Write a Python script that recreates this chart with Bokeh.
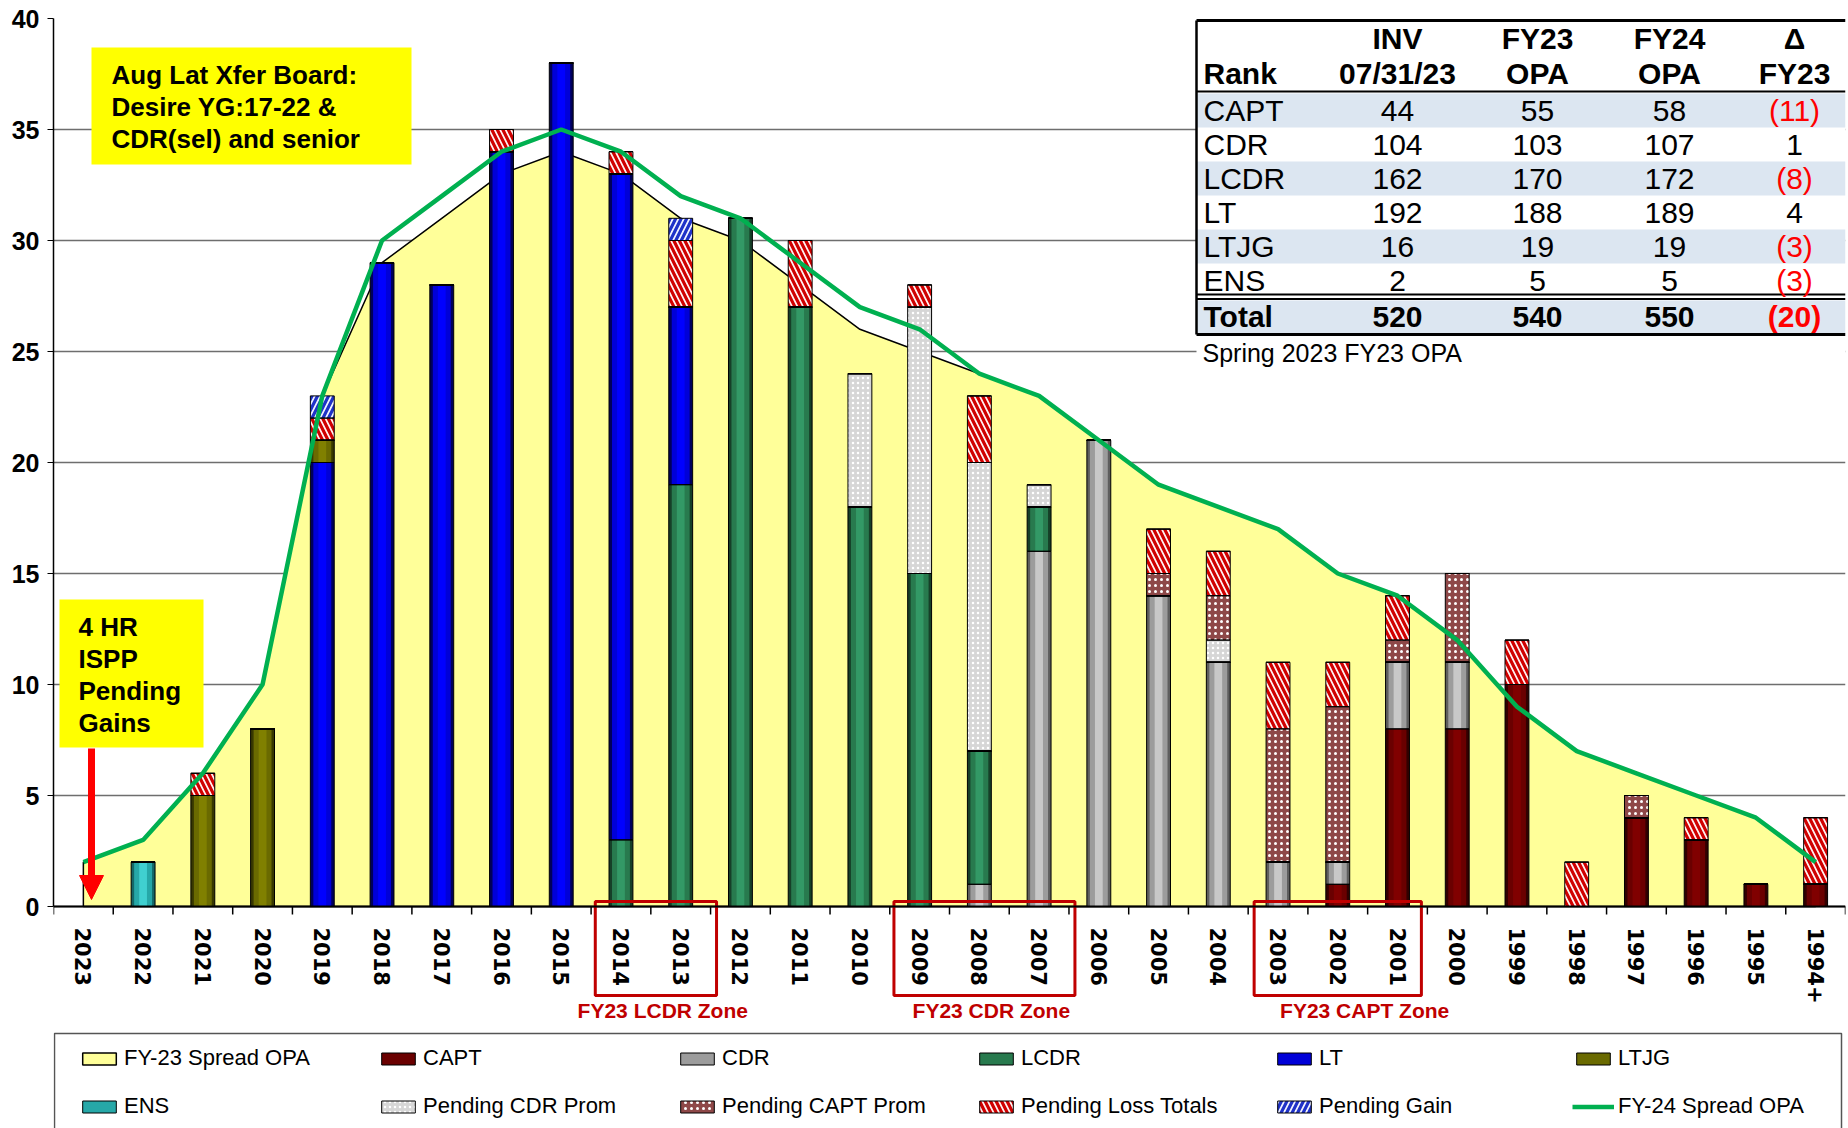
from bokeh.plotting import figure
from bokeh.models import (ColumnDataSource, FactorRange, Range1d, FixedTicker,
                          Legend, LegendItem, Arrow, NormalHead)
from bokeh.core.properties import value
from bokeh.embed import file_html
from bokeh.resources import INLINE

# ---------------- data ----------------
years = ["2023", "2022", "2021", "2020", "2019", "2018", "2017", "2016", "2015", "2014",
         "2013", "2012", "2011", "2010", "2009", "2008", "2007", "2006", "2005", "2004",
         "2003", "2002", "2001", "2000", "1999", "1998", "1997", "1996", "1995", "1994+"]
capt      = [0, 0, 0, 0, 0, 0, 0, 0, 0, 0,   0, 0, 0, 0, 0, 0, 0, 0, 0, 0,   0, 1, 8, 8, 10, 0, 4, 3, 1, 1]
cdr       = [0, 0, 0, 0, 0, 0, 0, 0, 0, 0,   0, 0, 0, 0, 0, 1, 16, 21, 14, 11, 2, 1, 3, 3, 0, 0, 0, 0, 0, 0]
lcdr      = [0, 0, 0, 0, 0, 0, 0, 0, 0, 3,   19, 31, 27, 18, 15, 6, 2, 0, 0, 0, 0, 0, 0, 0, 0, 0, 0, 0, 0, 0]
lt        = [0, 0, 0, 0, 20, 29, 28, 34, 38, 30, 8, 0, 0, 0, 0, 0, 0, 0, 0, 0, 0, 0, 0, 0, 0, 0, 0, 0, 0, 0]
ltjg      = [0, 0, 5, 8, 1, 0, 0, 0, 0, 0,   0, 0, 0, 0, 0, 0, 0, 0, 0, 0,   0, 0, 0, 0, 0, 0, 0, 0, 0, 0]
ens       = [0, 2, 0, 0, 0, 0, 0, 0, 0, 0,   0, 0, 0, 0, 0, 0, 0, 0, 0, 0,   0, 0, 0, 0, 0, 0, 0, 0, 0, 0]
pend_cdr  = [0, 0, 0, 0, 0, 0, 0, 0, 0, 0,   0, 0, 0, 6, 12, 13, 1, 0, 0, 1, 0, 0, 0, 0, 0, 0, 0, 0, 0, 0]
pend_capt = [0, 0, 0, 0, 0, 0, 0, 0, 0, 0,   0, 0, 0, 0, 0, 0, 0, 0, 1, 2,   6, 7, 1, 4, 0, 0, 1, 0, 0, 0]
pend_loss = [0, 0, 1, 0, 1, 0, 0, 1, 0, 1,   3, 0, 3, 0, 1, 3, 0, 0, 2, 2,   3, 2, 2, 0, 2, 2, 0, 1, 0, 3]
pend_gain = [0, 0, 0, 0, 1, 0, 0, 0, 0, 0,   1, 0, 0, 0, 0, 0, 0, 0, 0, 0,   0, 0, 0, 0, 0, 0, 0, 0, 0, 0]
fy23_spread = [2, 3, 6, 10, 23, 29, 31, 33, 34, 33, 31, 30, 28, 26, 25, 24, 23, 21, 19, 18,
               17, 15, 14, 12, 9, 7, 6, 5, 4, 2]
fy24_spread = [2, 3, 6, 10, 23, 30, 32, 34, 35, 34, 32, 31, 29, 27, 26, 24, 23, 21, 19, 18,
               17, 15, 14, 12, 9, 7, 6, 5, 4, 2]
y_ticks = [0, 5, 10, 15, 20, 25, 30, 35, 40]

# zone annotations (label, first year, last year)
zones = [("FY23 LCDR Zone", "2014", "2013"),
         ("FY23 CDR Zone", "2009", "2007"),
         ("FY23 CAPT Zone", "2003", "2001")]

# summary table
tbl_ranks = ["CAPT", "CDR", "LCDR", "LT", "LTJG", "ENS"]
tbl_inv   = [44, 104, 162, 192, 16, 2]
tbl_fy23  = [55, 103, 170, 188, 19, 5]
tbl_fy24  = [58, 107, 172, 189, 19, 5]
tbl_delta = [-11, 1, -8, 4, -3, -3]
tbl_head1 = ["INV", "FY23", "FY24", "Δ"]
tbl_head2 = ["07/31/23", "OPA", "OPA", "FY23"]

note1 = ["Aug Lat Xfer Board:", "Desire YG:17-22 &", "CDR(sel) and senior"]
note2 = ["4 HR", "ISPP", "Pending", "Gains"]

# ---------------- geometry helpers (canvas px -> data) ----------------
W, H = 1848, 1128
FL, FR, FT, FB = 53, 1845, 18, 1128
Y0, Y1 = -10.0, 40.0
N = len(years)


def cx(px):
    return (px - FL) * N / (FR - FL)


def cy(py):
    return Y1 - (py - FT) * (Y1 - Y0) / (FB - FT)


src = ColumnDataSource(dict(years=years, capt=capt, cdr=cdr, lcdr=lcdr, lt=lt, ltjg=ltjg,
                            ens=ens, pend_cdr=pend_cdr, pend_capt=pend_capt,
                            pend_loss=pend_loss, pend_gain=pend_gain,
                            fy23=fy23_spread, fy24=fy24_spread))

p = figure(width=W, height=H, x_range=FactorRange(*years), y_range=Range1d(Y0, Y1),
           output_backend="svg", toolbar_location=None,
           min_border_left=FL, min_border_right=W - FR, min_border_top=FT, min_border_bottom=0)
p.outline_line_color = None
p.background_fill_color = "white"
p.border_fill_color = "white"

# axes
p.xaxis.fixed_location = 0
p.xaxis.major_label_orientation = "vertical"
p.xaxis.major_label_text_font = "DejaVu Sans"
p.xaxis.major_label_text_font_style = "bold"
p.xaxis.major_label_text_font_size = "21px"
p.xaxis.major_label_text_color = "black"
p.xaxis.major_label_standoff = 15
p.xaxis.major_tick_line_color = None
p.xaxis.axis_line_width = 2
p.xaxis.axis_line_color = "black"
p.xgrid.grid_line_color = None

p.yaxis.ticker = FixedTicker(ticks=y_ticks)
p.yaxis.bounds = (0, 40)
p.yaxis.major_label_text_font = "Liberation Sans"
p.yaxis.major_label_text_font_style = "bold"
p.yaxis.major_label_text_font_size = "25px"
p.yaxis.major_label_text_color = "black"
p.yaxis.major_tick_out = 6
p.yaxis.major_tick_in = 0
p.yaxis.minor_tick_line_color = None
p.yaxis.major_label_standoff = 8
p.yaxis.axis_line_width = 1.5
p.ygrid.ticker = FixedTicker(ticks=y_ticks)
p.ygrid.grid_line_color = "#6E6E6E"
p.ygrid.grid_line_width = 1.5

# FY-23 spread area (patch with black outline)
area = p.patch(x=years + years[::-1], y=fy23_spread + [0] * N,
               fill_color="#FFFF99", line_color="black", line_width=1.5)

# stacked bars
rank_keys = ["capt", "cdr", "lcdr", "lt", "ltjg", "ens"]
pend_keys = ["pend_cdr", "pend_capt", "pend_loss", "pend_gain"]
keys = rank_keys + pend_keys
outer_fill = ["#330000", "#5E5E5E", "#163F28", "#00005A", "#383800", "#146868",
              "#D6D6D6", "#8E4848", "#FFF2F2", "#F2F4FF"]
mid_fill = ["#6A0000", "#9C9C9C", "#287A4E", "#0000D8", "#6A6A00", "#26A8A8"]
light_fill = ["#800000", "#C8C8C8", "#339966", "#0000FF", "#808000", "#40D0D0"]
hatch_pat = ["blank"] * 6 + ["dot", "dot", "left_diagonal_line", "right_diagonal_line"]
hatch_col = ["black"] * 6 + ["#FFFFFF", "#FFFFFF", "#D00000", "#1F32C8"]
hatch_scl = [12] * 6 + [5, 6, 11, 11]
hatch_wt = [1] * 6 + [1, 1, 3.2, 3.2]

outer = p.vbar_stack(keys, x="years", width=0.4, source=src, fill_color=outer_fill,
                     line_color=None, hatch_pattern=hatch_pat, hatch_color=hatch_col,
                     hatch_scale=hatch_scl, hatch_weight=hatch_wt)
mid = p.vbar_stack(rank_keys, x="years", width=0.30, source=src, fill_color=mid_fill,
                   line_color=None)
light = p.vbar_stack(rank_keys, x="years", width=0.13, source=src, fill_color=light_fill,
                     line_color=None)
outline = p.vbar_stack(keys, x="years", width=0.4, source=src, fill_color=None,
                       line_color="black", line_width=1)

# FY-24 line
fy24_line = p.line(x="years", y="fy24", source=src, line_color="#00B050", line_width=4.5)

# boundary tick marks on x axis
bnd = list(range(N + 1))
p.segment(x0=bnd, y0=[0] * len(bnd), x1=bnd, y1=[cy(914)] * len(bnd),
          line_color="black", line_width=1.5)

# zone boxes
box_pad_l = [0.07, 0.07, 0.1]
box_pad_r = [0.1, 0.1, -0.1]
lab_shift = [0.2, 0.2, 0.45]
zl, zr, zt, zb, ztx = [], [], [], [], []
for k, (name, a, b) in enumerate(zones):
    i0, i1 = years.index(a), years.index(b) + 1
    zl.append(i0 + box_pad_l[k])
    zr.append(i1 + box_pad_r[k])
    zt.append(cy(901))
    zb.append(cy(995))
    ztx.append((i0 + i1) / 2 + lab_shift[k])
p.quad(left=zl, right=zr, top=zt, bottom=zb, fill_color=None,
       line_color="#C00000", line_width=3)
p.text(x=ztx, y=[cy(1010)] * len(zones), text=[z[0] for z in zones],
       text_align="center", text_baseline="middle", text_color="#C00000",
       text_font=value("Liberation Sans"), text_font_style="bold", text_font_size="21px")

# yellow notes
p.quad(left=[cx(91), cx(59)], right=[cx(411), cx(203)], top=[cy(47), cy(599)],
       bottom=[cy(164), cy(747)], fill_color="#FFFF00", line_color=None)
p.text(x=[cx(111)] * len(note1), y=[cy(74 + 32 * i) for i in range(len(note1))], text=note1,
       text_align="left", text_baseline="middle", text_color="black",
       text_font=value("Liberation Sans"), text_font_style="bold", text_font_size="26px")
p.text(x=[cx(78)] * len(note2), y=[cy(626 + 32 * i) for i in range(len(note2))], text=note2,
       text_align="left", text_baseline="middle", text_color="black",
       text_font=value("Liberation Sans"), text_font_style="bold", text_font_size="26px")
p.add_layout(Arrow(end=NormalHead(size=24, fill_color="#FF0000", line_color="#FF0000"),
                   x_start=cx(91), y_start=cy(748), x_end=cx(91), y_end=cy(899),
                   line_color="#FF0000", line_width=7))

# ---------------- table ----------------
TL, TR, TT, TB = 1196, 1845, 20, 334
row_y = [110 + 34 * i for i in range(len(tbl_ranks))]
tot_y = 316
col_x = [1397, 1537, 1669, 1794]
TFS = "30px"
p.quad(left=[cx(TL)], right=[cx(TR)], top=[cy(TT)], bottom=[cy(TB)],
       fill_color="white", line_color=None)
shade_rows = [row_y[i] for i in range(len(tbl_ranks)) if i % 2 == 0]
p.quad(left=[cx(TL)] * (len(shade_rows) + 1), right=[cx(TR)] * (len(shade_rows) + 1),
       top=[cy(r - 17) for r in shade_rows] + [cy(300)],
       bottom=[cy(r + 17) for r in shade_rows] + [cy(TB)],
       fill_color="#DCE6F1", line_color=None)
p.segment(x0=[cx(TL)] * 2, x1=[cx(TR)] * 2, y0=[cy(TT), cy(TB)], y1=[cy(TT), cy(TB)],
          line_color="black", line_width=3)
p.segment(x0=[cx(TL)] * 3, x1=[cx(TR)] * 3, y0=[cy(91), cy(294), cy(298.5)],
          y1=[cy(91), cy(294), cy(298.5)], line_color="black", line_width=2)
p.segment(x0=[cx(TL)], x1=[cx(TL)], y0=[cy(TT)], y1=[cy(TB)], line_color="black", line_width=2.5)

tfont = value("Liberation Sans")
# headers
p.text(x=[cx(c) for c in col_x], y=[cy(38)] * 4, text=tbl_head1, text_align="center",
       text_baseline="middle", text_font=tfont, text_font_style="bold", text_font_size=TFS)
p.text(x=[cx(c) for c in col_x], y=[cy(73)] * 4, text=tbl_head2, text_align="center",
       text_baseline="middle", text_font=tfont, text_font_style="bold", text_font_size=TFS)
p.text(x=[cx(1203)], y=[cy(73)], text=["Rank"], text_align="left",
       text_baseline="middle", text_font=tfont, text_font_style="bold", text_font_size=TFS)
# body
p.text(x=[cx(1203)] * len(tbl_ranks), y=[cy(r) for r in row_y], text=tbl_ranks,
       text_align="left", text_baseline="middle", text_font=tfont, text_font_size=TFS)


def fmt_delta(d):
    return "(%d)" % abs(d) if d < 0 else str(d)


bx, by, bt, bc = [], [], [], []
for i in range(len(tbl_ranks)):
    vals = [str(tbl_inv[i]), str(tbl_fy23[i]), str(tbl_fy24[i]), fmt_delta(tbl_delta[i])]
    for j, v in enumerate(vals):
        bx.append(cx(col_x[j]))
        by.append(cy(row_y[i]))
        bt.append(v)
        bc.append("#FF0000" if (j == 3 and tbl_delta[i] < 0) else "black")
p.text(x=bx, y=by, text=bt, text_color=bc, text_align="center", text_baseline="middle",
       text_font=tfont, text_font_size=TFS)
tot_delta = sum(tbl_delta)
tot_vals = [str(sum(tbl_inv)), str(sum(tbl_fy23)), str(sum(tbl_fy24)), fmt_delta(tot_delta)]
p.text(x=[cx(c) for c in col_x], y=[cy(tot_y)] * 4, text=tot_vals,
       text_color=["black", "black", "black", "#FF0000" if tot_delta < 0 else "black"],
       text_align="center", text_baseline="middle", text_font=tfont,
       text_font_style="bold", text_font_size=TFS)
p.text(x=[cx(1203)], y=[cy(tot_y)], text=["Total"], text_align="left", text_baseline="middle",
       text_font=tfont, text_font_style="bold", text_font_size=TFS)

# FY23 line caption
p.quad(left=[cx(TL)], right=[cx(TR)], top=[cy(338)], bottom=[cy(367)],
       fill_color="white", line_color=None)
p.text(x=[cx(1202)], y=[cy(352)], text=["Spring 2023 FY23 OPA"], text_align="left",
       text_baseline="middle", text_font=tfont, text_font_size="25px")

# ---------------- legend ----------------
p.quad(left=[cx(54)], right=[cx(1841)], top=[cy(1033)], bottom=[cy(1140)],
       fill_color=None, line_color="#555555", line_width=1.5)

leg_entries = [
    ("FY-23 Spread OPA", [area]),
    ("CAPT", [mid[0], outline[0]]),
    ("CDR", [mid[1], outline[1]]),
    ("LCDR", [mid[2], outline[2]]),
    ("LT", [mid[3], outline[3]]),
    ("LTJG", [mid[4], outline[4]]),
    ("ENS", [mid[5], outline[5]]),
    ("Pending CDR Prom", [outer[6], outline[6]]),
    ("Pending CAPT Prom", [outer[7], outline[7]]),
    ("Pending Loss Totals", [outer[8], outline[8]]),
    ("Pending Gain", [outer[9], outline[9]]),
    ("FY-24 Spread OPA", [fy24_line]),
]
leg_cols = [78, 377, 676, 975, 1273, 1572]
leg_rows = [1058, 1106]
ITEM_H = 26
for k, (lab, rends) in enumerate(leg_entries):
    r, c = divmod(k, 6)
    leg = Legend(items=[LegendItem(label=lab, renderers=rends)],
                 location=(leg_cols[c] - FL, FB - (leg_rows[r] + ITEM_H / 2)),
                 padding=0, margin=0, spacing=0, border_line_color=None,
                 background_fill_alpha=0, glyph_width=42, glyph_height=15,
                 label_standoff=4, label_height=15, label_text_font="Liberation Sans",
                 label_text_font_size="22px", label_text_color="black")
    p.add_layout(leg)

open("out.html", "w").write(file_html(p, INLINE))
